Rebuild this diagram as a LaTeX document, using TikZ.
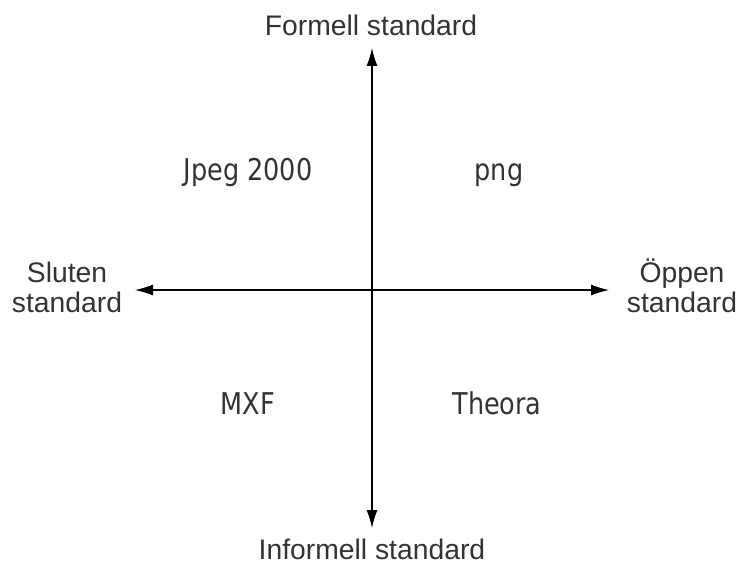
\documentclass[tikz,border=0pt]{standalone}
\usepackage{fontspec}
\setmainfont{Liberation Sans}
\newfontfamily\quadfont[FakeStretch=0.85]{DejaVu Sans}
\usetikzlibrary{arrows.meta}
\definecolor{labelgray}{HTML}{333333}

\begin{document}
\begin{tikzpicture}
[x=1pt, y=-1pt, >={Latex[length=18pt, width=11pt]},
 axis/.style={line width=1.2pt, <->},
 axislabel/.style={text=labelgray, font=\fontsize{28.3}{30}\selectfont, align=center, anchor=base, inner sep=0pt},
 quadrant/.style={text=labelgray, font=\quadfont\fontsize{30}{32}\selectfont, anchor=base, inner sep=0pt}]

\useasboundingbox (0,0) rectangle (740,564);

\coordinate (top) at (372,48);
\coordinate (bottom) at (372,528);
\coordinate (left) at (135,290);
\coordinate (right) at (609,290);

\draw[axis] (bottom) -- (top);
\draw[axis] (left) -- (right);

\node [axislabel] (formal) at (371,36) {Formell standard};
\node [axislabel] (informal) at (372,559) {Informell standard};
\node [axislabel] (closed) at (67,313) {Sluten\\standard};
\node [axislabel] (open) at (682,313) {Öppen\\standard};

\node [quadrant] (jpeg) at (248,181) {Jpeg 2000};
\node [quadrant] (png) at (499,181) {png};
\node [quadrant] (mxf) at (248,414) {MXF};
\node [quadrant] (theora) at (497,415) {Theora};

\end{tikzpicture}
\end{document}
